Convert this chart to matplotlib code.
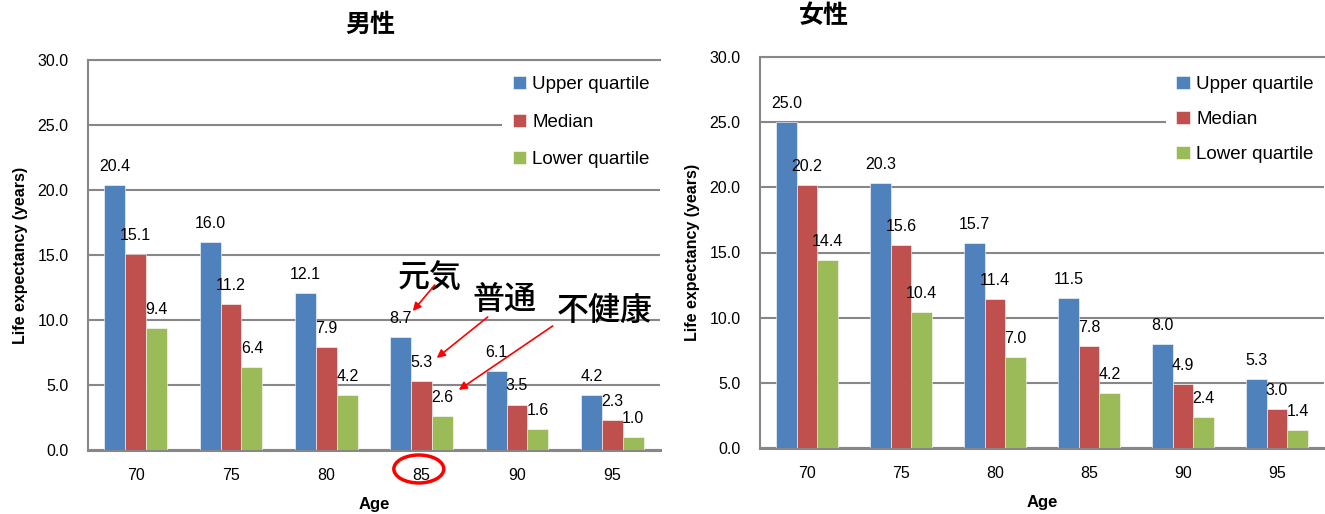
import numpy as np
import matplotlib.pyplot as plt
from matplotlib.patches import Ellipse

plt.rcParams['font.family'] = ['Liberation Sans', 'Noto Sans CJK JP']

ages = ['70', '75', '80', '85', '90', '95']
series = ['Upper quartile', 'Median', 'Lower quartile']
colors = ['#4F81BD', '#C0504D', '#9BBB59']

male_upper = [20.4, 16.0, 12.1, 8.7, 6.1, 4.2]
male_median = [15.1, 11.2, 7.9, 5.3, 3.5, 2.3]
male_lower = [9.4, 6.4, 4.2, 2.6, 1.6, 1.0]

female_upper = [25.0, 20.3, 15.7, 11.5, 8.0, 5.3]
female_median = [20.2, 15.6, 11.4, 7.8, 4.9, 3.0]
female_lower = [14.4, 10.4, 7.0, 4.2, 2.4, 1.4]

grid_c = '#878787'
W, H = 1325, 514
fig = plt.figure(figsize=(W / 100, H / 100), dpi=100)

ax1 = fig.add_axes([88 / W, 64 / H, 572 / W, 390 / H])
ax2 = fig.add_axes([760 / W, 66 / H, 564 / W, 391 / H])


def draw(ax, data, labelspacing, bbox, xlpad):
    x = np.arange(len(ages))
    bw = 0.22
    for k, (vals, c, name) in enumerate(zip(data, colors, series)):
        pos = x + (k - 1) * bw
        ax.bar(pos, vals, bw, color=c, edgecolor='white', linewidth=0.4,
               label=name, zorder=3)
        for xi, v in zip(pos, vals):
            ax.annotate(f'{v:.1f}', (xi, v), xytext=(0, 8), textcoords='offset points',
                        ha='center', va='bottom', fontsize=11.5, zorder=5)
    ax.set_xlim(-0.5, len(ages) - 0.5)
    ax.set_ylim(0, 30)
    ax.set_yticks(np.arange(0, 31, 5))
    ax.set_yticklabels([f'{t:.1f}' for t in np.arange(0, 31, 5)], fontsize=11.5)
    ax.set_xticks(x)
    ax.set_xticklabels(ages, fontsize=11.5)
    ax.tick_params(axis='both', length=0)
    ax.tick_params(axis='x', pad=13)
    ax.tick_params(axis='y', pad=14)
    ax.yaxis.grid(True, color=grid_c, linewidth=1.5, zorder=0)
    ax.set_axisbelow(True)
    ax.spines['right'].set_visible(False)
    for s in ['top', 'left']:
        ax.spines[s].set_color(grid_c)
        ax.spines[s].set_linewidth(1.5)
    ax.spines['bottom'].set_color(grid_c)
    ax.spines['bottom'].set_linewidth(2.2)
    ax.set_ylabel('Life expectancy (years)', fontsize=11.5, fontweight='bold', labelpad=7)
    ax.set_xlabel('Age', fontsize=12, fontweight='bold', labelpad=xlpad)
    leg = ax.legend(loc='upper right', bbox_to_anchor=bbox, fontsize=13.5, frameon=True,
                    facecolor='white', edgecolor='none', framealpha=1, fancybox=False,
                    handlelength=0.7, handleheight=0.7, handletextpad=0.35,
                    labelspacing=labelspacing, borderpad=0.55, borderaxespad=0)
    leg.set_zorder(4)


draw(ax1, [male_upper, male_median, male_lower], 1.08, (1.0, 0.985), 10)
draw(ax2, [female_upper, female_median, female_lower], 0.95, (1.0, 0.978), 10)

fig.text(370 / W, 1 - 25 / H, '男性', ha='center', va='center', fontsize=18, fontweight='bold')
fig.text(824 / W, 1 - 16 / H, '女性', ha='center', va='center', fontsize=18, fontweight='bold')

# annotations on the male chart
arrow = dict(arrowstyle='-|>', color='red', lw=1.2, mutation_scale=12, shrinkA=0, shrinkB=0)
ax1.text(3.085, 13.15, '元気', ha='center', va='center', fontsize=23, fontweight='medium', zorder=6)
ax1.annotate('', xy=(2.907, 10.69), xytext=(3.137, 12.69), arrowprops=arrow, zorder=6)
ax1.text(3.871, 11.46, '普通', ha='center', va='center', fontsize=23, fontweight='medium', zorder=6)
ax1.annotate('', xy=(3.158, 7.08), xytext=(3.693, 10.23), arrowprops=arrow, zorder=6)
ax1.text(4.919, 10.62, '不健康', ha='center', va='center', fontsize=23, fontweight='medium', zorder=6)
ax1.annotate('', xy=(3.389, 4.62), xytext=(4.374, 9.54), arrowprops=arrow, zorder=6)
ax1.add_patch(Ellipse((ages.index('85') - 0.03, -1.46), 0.524, 2.15, fill=False,
                      edgecolor='red', linewidth=2.5, clip_on=False, zorder=6))

fig.savefig('out.png', dpi=100)
